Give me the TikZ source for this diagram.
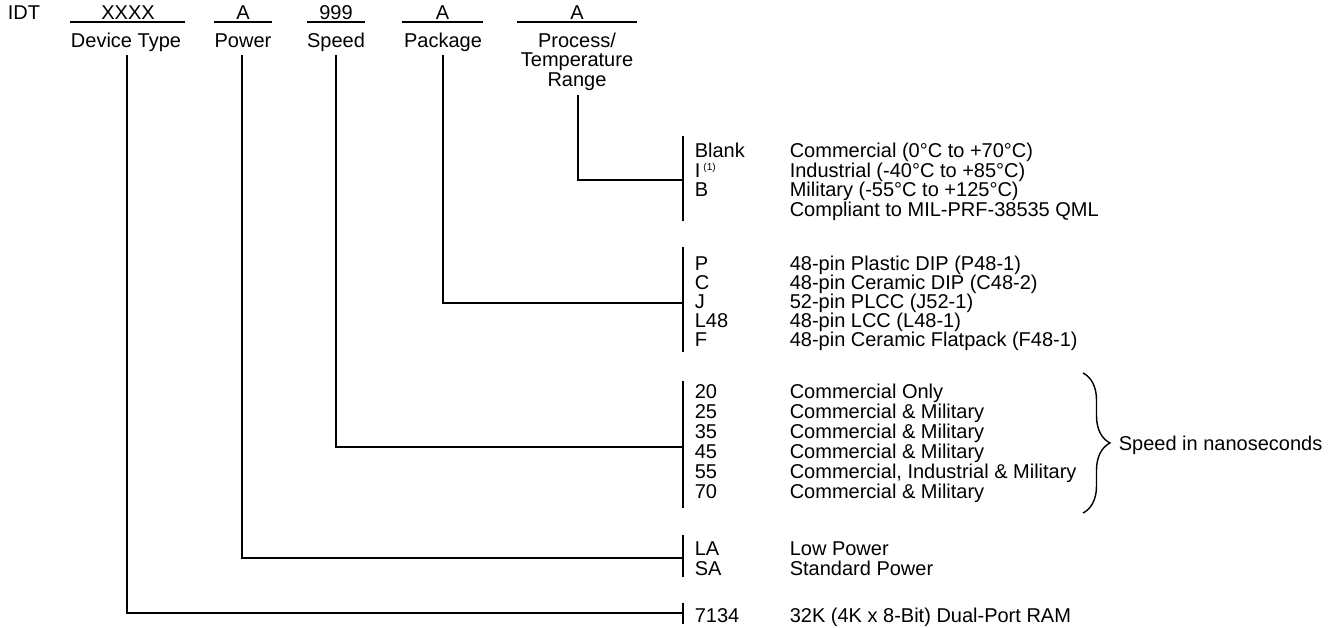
\documentclass[tikz,border=0pt]{standalone}
\usepackage{fontspec}
\setmainfont{Liberation Sans}
\usetikzlibrary{decorations.pathreplacing}
\begin{document}
\begin{tikzpicture}[x=1pt,y=-1pt,
  font=\fontsize{20}{20}\selectfont,
  line width=1.6pt,
  lbl/.style={inner sep=0pt, anchor=base west},
  ctr/.style={inner sep=0pt, anchor=base},
  sup1/.style={inner sep=0pt, anchor=base west, font=\fontsize{10}{10}\selectfont}]
\useasboundingbox (0,0) rectangle (1339,627);

% ---- header ----
\node[lbl] (idt) at (7,19) {IDT};
\node[ctr] (fdev) at (128,19) {XXXX};
\node[ctr] (fpow) at (243,19) {A};
\node[ctr] (fspd) at (336,19) {999};
\node[ctr] (fpkg) at (442.5,19) {A};
\node[ctr] (fproc) at (577,19) {A};
\coordinate (u1a) at (70,22);  \coordinate (u1b) at (185,22);
\coordinate (u2a) at (214,22); \coordinate (u2b) at (272,22);
\coordinate (u3a) at (307,22); \coordinate (u3b) at (365,22);
\coordinate (u4a) at (402,22); \coordinate (u4b) at (483,22);
\coordinate (u5a) at (517,22); \coordinate (u5b) at (637,22);
\draw (u1a) -- (u1b); \draw (u2a) -- (u2b); \draw (u3a) -- (u3b);
\draw (u4a) -- (u4b); \draw (u5a) -- (u5b);

\node[ctr] (ldev) at (126,47) {Device Type};
\node[ctr] (lpow) at (243,47) {Power};
\node[ctr] (lspd) at (336,47) {Speed};
\node[ctr] (lpkg) at (443,47) {Package};
\node[ctr] (lproc1) at (577,47) {Process/};
\node[ctr] (lproc2) at (577,66.5) {Temperature};
\node[ctr] (lproc3) at (577,86) {Range};

% ---- connectors ----
\coordinate (dtop) at (127,55);  \coordinate (dend) at (683,613);
\coordinate (ptop) at (242,55);  \coordinate (pend) at (683,558);
\coordinate (stop) at (336,55);  \coordinate (send) at (683,447);
\coordinate (ktop) at (443,55);  \coordinate (kend) at (683,303);
\coordinate (rtop) at (578,95);  \coordinate (rend) at (683,180);
\draw (dtop) |- (dend);
\draw (ptop) |- (pend);
\draw (stop) |- (send);
\draw (ktop) |- (kend);
\draw (rtop) |- (rend);

% ---- bars ----
\coordinate (b1a) at (683,136); \coordinate (b1b) at (683,221);
\coordinate (b2a) at (683,247); \coordinate (b2b) at (683,352);
\coordinate (b3a) at (683,381); \coordinate (b3b) at (683,508);
\coordinate (b4a) at (683,535); \coordinate (b4b) at (683,577);
\coordinate (b5a) at (683,603); \coordinate (b5b) at (683,624);
\draw (b1a) -- (b1b); \draw (b2a) -- (b2b); \draw (b3a) -- (b3b);
\draw (b4a) -- (b4b); \draw (b5a) -- (b5b);

% ---- process / temperature ----
\node[lbl] (c1) at (694,157.5) {Blank};
\node[lbl] (c2) at (694,177) {I};
\node[sup1] (c2s) at ([xshift=1.5pt,yshift=7pt]c2.base east) {(1)};
\node[lbl] (c3) at (694,196.5) {B};
\node[lbl] (d1) at (789,157.5) {Commercial (0°C to +70°C)};
\node[lbl] (d2) at (789,177) {Industrial (-40°C to +85°C)};
\node[lbl] (d3) at (789,196.5) {Military (-55°C to +125°C)};
\node[lbl] (d4) at (789,216) {Compliant to MIL-PRF-38535 QML};

% ---- package ----
\node[lbl] (k1) at (694,270) {P};
\node[lbl] (k2) at (694,289) {C};
\node[lbl] (k3) at (694,308) {J};
\node[lbl] (k4) at (694,327) {L48};
\node[lbl] (k5) at (694,346) {F};
\node[lbl] (kd1) at (789,270) {48-pin Plastic DIP (P48-1)};
\node[lbl] (kd2) at (789,289) {48-pin Ceramic DIP (C48-2)};
\node[lbl] (kd3) at (789,308) {52-pin PLCC (J52-1)};
\node[lbl] (kd4) at (789,327) {48-pin LCC (L48-1)};
\node[lbl] (kd5) at (789,346) {48-pin Ceramic Flatpack (F48-1)};

% ---- speed ----
\node[lbl] (s1) at (694,398) {20};
\node[lbl] (s2) at (694,418) {25};
\node[lbl] (s3) at (694,438) {35};
\node[lbl] (s4) at (694,458) {45};
\node[lbl] (s5) at (694,478) {55};
\node[lbl] (s6) at (694,498) {70};
\node[lbl] (sd1) at (789,398) {Commercial Only};
\node[lbl] (sd2) at (789,418) {Commercial \& Military};
\node[lbl] (sd3) at (789,438) {Commercial \& Military};
\node[lbl] (sd4) at (789,458) {Commercial \& Military};
\node[lbl] (sd5) at (789,478) {Commercial, Industrial \& Military};
\node[lbl] (sd6) at (789,498) {Commercial \& Military};
\coordinate (brtop) at (1083,373);
\coordinate (brbot) at (1083,513);
\draw[line width=1.4pt, decorate, decoration={brace, amplitude=27pt}] (brtop) -- (brbot);
\node[lbl] (snote) at (1118,450) {Speed in nanoseconds};

% ---- power ----
\node[lbl] (p1) at (694,555) {LA};
\node[lbl] (p2) at (694,575) {SA};
\node[lbl] (pd1) at (789,555) {Low Power};
\node[lbl] (pd2) at (789,575) {Standard Power};

% ---- device ----
\node[lbl] (t1) at (694,622) {7134};
\node[lbl] (td1) at (789,622) {32K (4K x 8-Bit) Dual-Port RAM};
\end{tikzpicture}
\end{document}
